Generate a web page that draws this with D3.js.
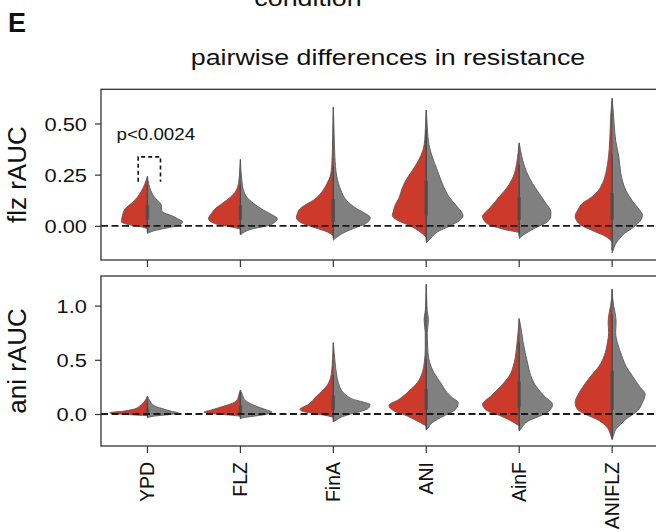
<!DOCTYPE html>
<html>
<head>
<meta charset="utf-8">
<script src="https://cdn.jsdelivr.net/npm/d3@7"></script>
<style>
  body { margin: 0; background: #fff; }
  text { font-family: "Liberation Sans", Arial, Helvetica, sans-serif; fill: #111; }
</style>
</head>
<body>
<script>
// categories (x axis)
const categories = ["YPD", "FLZ", "FinA", "ANI", "AinF", "ANIFLZ"];

// y ticks / ranges for the two panels
const flzTicks = [0, 0.25, 0.5];
const aniTicks = [0, 0.5, 1.0];
const flzDomain = [-0.167, 0.667];
const aniDomain = [-0.295, 1.273];

// violin halves: [value, density (arbitrary units)]
const flzRed = [
  [[-0.015,0],[-0.005,6],[0.005,18],[0.02,26],[0.05,25],[0.085,22],[0.11,16],[0.14,10],[0.17,6],[0.2,3],[0.243,0]],
  [[-0.015,0],[-0.005,10],[0.01,25],[0.035,32],[0.06,29],[0.08,26],[0.11,18],[0.14,10],[0.17,4.5],[0.22,1.5],[0.27,0.7],[0.324,0]],
  [[-0.048,0],[-0.03,6],[-0.01,18],[0.01,30],[0.04,37],[0.06,36],[0.085,33],[0.105,27],[0.125,20],[0.15,14],[0.175,10],[0.21,6],[0.24,3.3],[0.3,1.5],[0.4,0.8],[0.58,0]],
  [[-0.055,0],[-0.04,3.5],[-0.02,9],[0,16],[0.025,28],[0.05,34],[0.07,33],[0.095,31.7],[0.14,27],[0.175,24.7],[0.22,20.7],[0.27,14],[0.32,7.7],[0.37,3.3],[0.42,1.5],[0.5,0.7],[0.565,0]],
  [[-0.032,0],[-0.02,13],[-0.005,24],[0.01,32],[0.047,36.7],[0.07,33],[0.093,28.3],[0.142,20],[0.19,11.7],[0.24,6],[0.305,2.5],[0.36,1],[0.405,0]],
  [[-0.078,0],[-0.053,6],[-0.02,21],[0.003,31],[0.025,35.5],[0.047,37],[0.08,34],[0.11,29.7],[0.135,22],[0.158,16.3],[0.207,9.7],[0.272,5.7],[0.37,3],[0.467,2],[0.53,1.5],[0.58,0.8],[0.622,0]]
];
const flzGrey = [
  [[-0.037,0],[-0.025,6],[-0.01,20],[0.005,33],[0.02,35],[0.035,30],[0.05,24],[0.065,16],[0.08,14],[0.1,14],[0.12,11],[0.14,7],[0.17,3.5],[0.2,1.5],[0.243,0]],
  [[-0.045,0],[-0.03,4],[-0.015,12],[0,27],[0.02,35],[0.035,37],[0.05,33],[0.077,23],[0.11,13],[0.14,6.5],[0.175,3],[0.22,1.5],[0.324,0]],
  [[-0.07,0],[-0.045,6.5],[-0.03,12],[-0.013,20],[0.01,32],[0.04,37],[0.06,32],[0.085,23],[0.125,13],[0.175,7.5],[0.24,3.5],[0.34,1.5],[0.45,0.8],[0.58,0]],
  [[-0.083,0],[-0.063,4],[-0.03,11],[0,24],[0.025,33],[0.05,36.7],[0.07,35],[0.093,31],[0.142,22.7],[0.207,16],[0.272,11],[0.337,6],[0.4,2.5],[0.47,1.2],[0.565,0]],
  [[-0.062,0],[-0.045,4],[-0.03,9],[-0.013,15],[0.005,23],[0.02,28.3],[0.045,31.5],[0.068,31.7],[0.11,26.7],[0.158,20],[0.207,13.3],[0.264,7.3],[0.32,3.5],[0.37,1.3],[0.405,0]],
  [[-0.132,0],[-0.1,2.5],[-0.086,3.7],[-0.06,8],[-0.037,12.3],[-0.015,19],[0.003,23.7],[0.03,29],[0.052,30.3],[0.08,27],[0.11,22],[0.174,13.7],[0.256,8.7],[0.337,6.7],[0.418,3.5],[0.5,2],[0.565,1],[0.622,0]]
];
const aniRed = [
  [[-0.015,0],[-0.005,20],[0.005,36],[0.012,37.7],[0.025,25],[0.043,14.3],[0.074,7.7],[0.12,2.7],[0.166,0]],
  [[-0.02,0],[-0.01,10],[0.005,30],[0.018,36.7],[0.035,30],[0.058,21.7],[0.08,14],[0.105,6.7],[0.135,3],[0.18,1.5],[0.221,0]],
  [[-0.03,0],[-0.018,5],[0.006,20],[0.028,31.7],[0.043,33.3],[0.088,25],[0.166,16.7],[0.21,11.5],[0.258,6.7],[0.32,3.3],[0.41,1.5],[0.5,0.8],[0.658,0]],
  [[-0.11,0],[-0.08,5.7],[-0.05,12],[-0.018,19],[0.028,32.3],[0.08,37.3],[0.135,27.3],[0.212,17.3],[0.289,9],[0.381,4],[0.474,2],[0.6,1],[0.75,1],[0.87,2.2],[0.95,1],[1.05,0.5],[1.196,0]],
  [[-0.11,0],[-0.08,5],[-0.05,11],[-0.018,18.3],[0.028,31.7],[0.089,36.6],[0.166,28.3],[0.258,18.3],[0.35,10],[0.474,5],[0.627,2.5],[0.766,1],[0.879,0]],
  [[-0.234,0],[-0.18,2],[-0.13,4.5],[-0.095,8],[-0.05,15],[-0.018,23],[0.043,34.7],[0.105,37],[0.197,33],[0.289,26.3],[0.35,21.3],[0.443,13],[0.535,8],[0.658,4.7],[0.75,3.5],[0.85,4],[0.93,3],[1.0,1.5],[1.15,0]]
];
const aniGrey = [
  [[-0.034,0],[-0.02,6],[-0.005,22],[0.012,30.7],[0.025,24],[0.043,17.3],[0.074,7.3],[0.12,2.5],[0.166,0]],
  [[-0.043,0],[-0.03,5],[-0.018,15],[0,27],[0.018,31.7],[0.035,27],[0.058,20],[0.088,11.7],[0.135,4],[0.18,2],[0.221,0]],
  [[-0.071,0],[-0.05,4],[-0.034,6.7],[-0.01,14],[0.006,20],[0.025,28],[0.043,33.3],[0.065,36],[0.088,36.7],[0.11,30],[0.135,20],[0.165,14],[0.197,10],[0.289,5],[0.38,3],[0.5,1.5],[0.658,0]],
  [[-0.148,0],[-0.12,2.5],[-0.095,4.3],[-0.05,11],[-0.018,17.7],[0.043,29.3],[0.105,32],[0.15,26],[0.197,21],[0.289,14.3],[0.381,7.7],[0.474,3.5],[0.6,1.5],[0.75,1],[0.87,2.2],[0.95,1],[1.05,0.5],[1.196,0]],
  [[-0.157,0],[-0.12,3],[-0.095,5],[-0.06,10],[-0.034,16.7],[0.028,30],[0.089,33.3],[0.166,25],[0.258,16.7],[0.35,11.7],[0.474,8.3],[0.566,6],[0.658,4],[0.781,2],[0.879,0]],
  [[-0.234,0],[-0.18,2],[-0.141,3.7],[-0.1,8],[-0.049,13.7],[0.028,25.3],[0.105,30.3],[0.181,33],[0.258,27],[0.35,20.3],[0.443,13.7],[0.535,9.7],[0.658,5.3],[0.75,3.5],[0.85,4],[0.93,3],[1.0,1.5],[1.15,0]]
];

// inner box: [whisker low, q1, q3, whisker high]
const flzBox = [[-0.03,0.03,0.1,0.2],[-0.04,0.03,0.1,0.2],[-0.06,0.02,0.13,0.29],[-0.07,0.05,0.22,0.47],[-0.05,0.03,0.14,0.3],[-0.12,0.03,0.16,0.35]];
const aniBox = [[-0.03,0,0.05,0.12],[-0.04,0,0.08,0.2],[-0.07,0.04,0.17,0.36],[-0.14,0.04,0.23,0.51],[-0.15,0.06,0.3,0.66],[-0.23,0.04,0.4,0.92]];

// significance annotation on the YPD violin (flz panel)
const pLabel = "p<0.0024";
const pBox = {cat: "YPD", x0: -0.1, x1: 0.14, y0: 0.215, y1: 0.337, textY: 0.42};

const W = 656, H = 532;
const red = "#cc3a2b", grey = "#808080", edge = "#5a5a5a", innerCol = "#4a4a4a";

const svg = d3.select("body").append("svg")
    .attr("width", W)
    .attr("height", H);

const plotL = 101, plotR = 658.6;
const x = d3.scaleBand().domain(categories).range([plotL, plotR]);
const cx = c => x(c) + x.bandwidth() / 2;
const half = d3.scaleLinear().domain([0, 40]).range([0, 40]);

// horizontal text helper (the source text is a bit wide)
function htext(g, str, tx, ty, size, sx, anchor, weight) {
    return g.append("text")
        .attr("transform", "translate(" + tx + "," + ty + ") scale(" + sx + ",1)")
        .attr("text-anchor", anchor)
        .attr("font-size", size + "px")
        .attr("font-weight", weight || "normal")
        .text(str);
}

//見出し
htext(svg, "E", 8, 32, 27, 1, "start", "bold");
htext(svg, "condition", 308, 6, 22, 1.22, "middle");
htext(svg, "pairwise differences in resistance", 388, 64.5, 22, 1.22, "middle");

function panel(top, bottom, domain, ticks, fmt, redSet, greySet, boxSet, label, showX) {
    const y = d3.scaleLinear().domain(domain).range([bottom, top]);
    const g = svg.append("g");

    const areaL = d3.area().curve(d3.curveMonotoneY);
    const areaR = d3.area().curve(d3.curveMonotoneY);

    categories.forEach(function (c, i) {
        const m = cx(c);
        areaL.y(d => y(d[0])).x0(m).x1(d => m - half(d[1]));
        areaR.y(d => y(d[0])).x0(m).x1(d => m + half(d[1]));
        g.append("path").attr("d", areaL(redSet[i]))
            .attr("fill", red).attr("stroke", edge).attr("stroke-width", 0.9);
        g.append("path").attr("d", areaR(greySet[i]))
            .attr("fill", grey).attr("stroke", edge).attr("stroke-width", 0.9);
        const b = boxSet[i];
        g.append("line")
            .attr("x1", m).attr("x2", m)
            .attr("y1", y(b[0])).attr("y2", y(b[3]))
            .attr("stroke", innerCol).attr("stroke-width", 1.3);
        g.append("line")
            .attr("x1", m).attr("x2", m)
            .attr("y1", y(b[1])).attr("y2", y(b[2]))
            .attr("stroke", innerCol).attr("stroke-width", 3.5).attr("opacity", 0.7);
    });

    // zero line
    g.append("line")
        .attr("x1", plotL).attr("x2", W)
        .attr("y1", y(0)).attr("y2", y(0))
        .attr("stroke", "#1a1a1a").attr("stroke-width", 1.8)
        .attr("stroke-dasharray", "7,3.5");

    // frame
    g.append("rect")
        .attr("x", plotL).attr("y", top)
        .attr("width", 720 - plotL).attr("height", bottom - top)
        .attr("fill", "none").attr("stroke", "#333").attr("stroke-width", 1.3);

    //軸
    const yAxis = g.append("g")
        .attr("transform", "translate(" + plotL + ",0)")
        .call(d3.axisLeft(y).tickValues(ticks).tickFormat(d3.format(fmt)).tickSize(6));
    yAxis.select(".domain").remove();
    yAxis.selectAll("line").attr("stroke", "#333").attr("stroke-width", 1.2);
    yAxis.selectAll("text")
        .attr("x", null).attr("dy", "0.36em")
        .attr("transform", "translate(-14,0) scale(1.15,1)")
        .attr("font-size", "19px").attr("fill", "#111")
        .attr("font-family", "Liberation Sans, Arial, sans-serif");

    const xAxis = g.append("g")
        .attr("transform", "translate(0," + bottom + ")")
        .call(d3.axisBottom(x).tickSize(7));
    xAxis.select(".domain").remove();
    xAxis.selectAll("line").attr("stroke", "#333").attr("stroke-width", 1.2);
    if (showX) {
        xAxis.selectAll("text")
            .attr("transform", "rotate(-90)")
            .attr("x", -16).attr("y", 0).attr("dy", "0.35em")
            .attr("text-anchor", "end")
            .attr("font-size", "19.5px").attr("fill", "#111")
            .attr("font-family", "Liberation Sans, Arial, sans-serif");
    } else {
        xAxis.selectAll("text").remove();
    }

    // y label
    g.append("text")
        .attr("transform", "translate(25.5," + ((top + bottom) / 2) + ") rotate(-90)")
        .attr("text-anchor", "middle")
        .attr("font-size", "26px")
        .text(label);

    return y;
}

const yFlz = panel(89.3, 260, flzDomain, flzTicks, ".2f", flzRed, flzGrey, flzBox, "flz rAUC", false);
const yAni = panel(276, 446, aniDomain, aniTicks, ".1f", aniRed, aniGrey, aniBox, "ani rAUC", true);

// p-value annotation
const step = x.step();
const pc = cx(pBox.cat);
htext(svg, pLabel, pc + 8.3, yFlz(pBox.textY), 16, 1.17, "middle");
svg.append("path")
    .attr("d", "M" + (pc + pBox.x0 * step) + "," + yFlz(pBox.y0) +
        "V" + yFlz(pBox.y1) + "H" + (pc + pBox.x1 * step) + "V" + yFlz(pBox.y0))
    .attr("fill", "none").attr("stroke", "#111").attr("stroke-width", 1.6)
    .attr("stroke-dasharray", "4,3");
</script>
</body>
</html>
